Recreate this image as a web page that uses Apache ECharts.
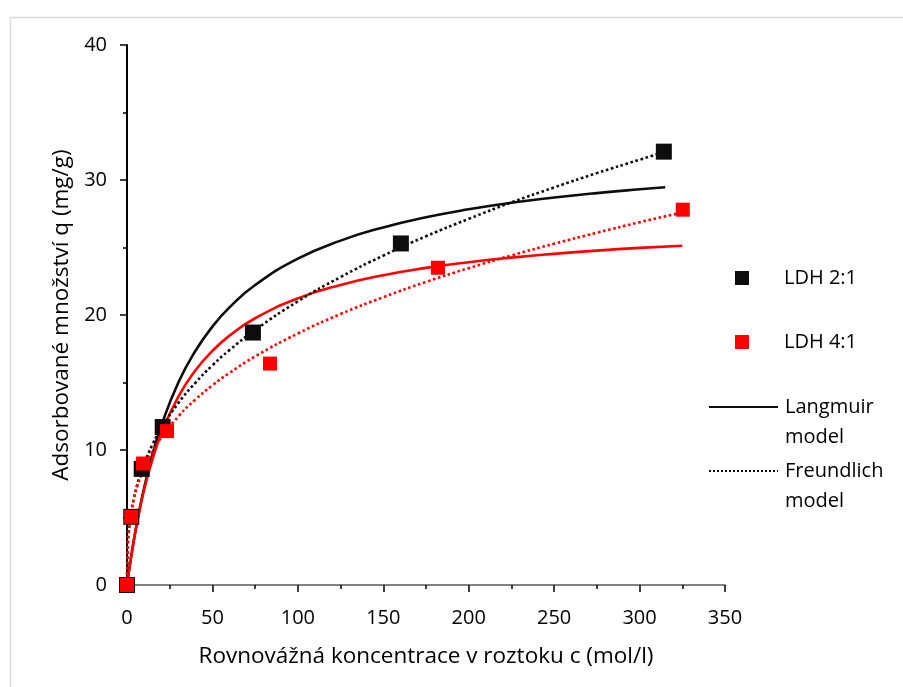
<!DOCTYPE html>
<html>
<head>
<meta charset="utf-8">
<script src="https://cdn.jsdelivr.net/npm/echarts@6/dist/echarts.min.js"></script>
<style>html,body{margin:0;padding:0;background:#fff}#chart{width:903px;height:687px}</style>
</head>
<body>
<div id="chart"></div>
<script>
// Measured points
const ldh21C = [0, 2.5, 8.6, 20.9, 73.7, 160.3, 314.2];
const ldh21Q = [0, 5.05, 8.6, 11.7, 18.7, 25.3, 32.1];
const ldh41C = [0, 2.5, 9.4, 23.4, 83.7, 182, 325.3];
const ldh41Q = [0, 5.05, 9.0, 11.4, 16.4, 23.5, 27.8];

// Model curves
const lang21C = [0, 1, 2, 4, 6, 8, 10, 15, 20, 30, 40, 50, 60, 75, 100, 125, 150, 175, 200, 225, 250, 275, 300, 315];
const lang21Q = [0, 0.89, 1.74, 3.30, 4.72, 6.00, 7.18, 9.70, 11.78, 14.98, 17.33, 19.14, 20.56, 22.22, 24.17, 25.51, 26.49, 27.24, 27.83, 28.31, 28.70, 29.03, 29.31, 29.46];
const freu21C = [0, 0.5, 1, 2, 4, 6, 8, 10, 15, 20, 30, 40, 50, 60, 75, 100, 125, 150, 175, 200, 225, 250, 275, 300, 315];
const freu21Q = [0, 2.97, 3.84, 4.96, 6.40, 7.44, 8.27, 8.98, 10.43, 11.60, 13.47, 14.98, 16.27, 17.40, 18.89, 21.01, 22.81, 24.40, 25.83, 27.12, 28.34, 29.45, 30.51, 31.50, 32.10];
const lang41C = [0, 1, 2, 4, 6, 8, 10, 15, 20, 30, 40, 50, 60, 75, 100, 125, 150, 175, 200, 225, 250, 275, 300, 325];
const lang41Q = [0, 0.92, 1.77, 3.33, 4.71, 5.93, 7.04, 9.35, 11.19, 13.94, 15.89, 17.34, 18.47, 19.76, 21.23, 22.23, 22.95, 23.49, 23.91, 24.25, 24.53, 24.77, 24.97, 25.13];
const freu41C = [0, 0.5, 1, 2, 4, 6, 8, 10, 15, 20, 30, 40, 50, 60, 75, 100, 125, 150, 175, 200, 225, 250, 275, 300, 325];
const freu41Q = [0, 3.19, 4.02, 5.06, 6.38, 7.30, 8.03, 8.66, 9.91, 10.91, 12.48, 13.73, 14.79, 15.71, 16.93, 18.63, 20.07, 21.32, 22.45, 23.47, 24.41, 25.28, 26.09, 26.87, 27.59];

const xTitle = 'Rovnovážná koncentrace v roztoku c (mol/l)';
const yTitle = 'Adsorbované množství q (mg/g)';
const seriesNames = ['LDH 2:1', 'LDH 4:1', 'Langmuir model', 'Freundlich model'];

const zip = (a, b) => a.map((v, i) => [v, b[i]]);
const FONT = 'Open Sans';
const BLACK = '#0d0d0d';
const RED = '#ff0000';

const chart = echarts.init(document.getElementById('chart'), null, {renderer: 'canvas'});

// line legend: blank first line so that the first word sits level with the icon
const lineLegend = (name, top) => ({
  data: [{name: name, itemStyle: {opacity: 0}}], left: 708, top: top, padding: 0,
  itemWidth: 69, itemHeight: 14, selectedMode: false,
  formatter: n => '\u00a0\n' + n.replace(' ', '\n'),
  textStyle: {fontFamily: FONT, fontSize: 20, color: '#000', lineHeight: 30, padding: [0, 0, 0, 2]}
});
const pointLegend = (name, top) => ({
  data: [{name: name, icon: 'rect'}], left: 735, top: top, padding: 0,
  itemWidth: 14, itemHeight: 14, selectedMode: false,
  textStyle: {fontFamily: FONT, fontSize: 20, color: '#000', lineHeight: 30, padding: [0, 0, 0, 30]}
});

chart.setOption({
  animation: false,
  backgroundColor: '#fff',
  graphic: [{
    type: 'rect', left: 8, top: 15, silent: true,
    shape: {width: 910, height: 700},
    style: {fill: 'none', stroke: '#d9d9d9', lineWidth: 1.5}
  }],
  grid: {left: 127, right: 178, top: 45, bottom: 102, containLabel: false},
  legend: [
    pointLegend(seriesNames[0], 263),
    pointLegend(seriesNames[1], 327),
    lineLegend(seriesNames[2], 362),
    lineLegend(seriesNames[3], 426)
  ],
  xAxis: {
    type: 'value', min: 0, max: 350, interval: 50,
    name: xTitle, nameLocation: 'middle', nameGap: 60,
    nameTextStyle: {fontFamily: FONT, fontSize: 22.5, color: '#000'},
    axisLine: {show: true, lineStyle: {color: '#595959', width: 1.5}},
    axisTick: {show: true, length: 7, lineStyle: {color: '#000', width: 1.5}},
    minorTick: {show: true, splitNumber: 2, length: 4, lineStyle: {color: '#000', width: 1.5}},
    splitLine: {show: false},
    axisLabel: {fontFamily: FONT, fontSize: 20, color: '#000', margin: 23}
  },
  yAxis: {
    type: 'value', min: 0, max: 40, interval: 10,
    name: yTitle, nameLocation: 'middle', nameGap: 53, nameRotate: 90,
    nameTextStyle: {fontFamily: FONT, fontSize: 22.5, color: '#000'},
    axisLine: {show: true, lineStyle: {color: '#000', width: 2}},
    axisTick: {show: true, length: 7, lineStyle: {color: '#000', width: 1.5}},
    minorTick: {show: true, splitNumber: 2, length: 4, lineStyle: {color: '#000', width: 1.5}},
    splitLine: {show: false},
    axisLabel: {fontFamily: FONT, fontSize: 20, color: '#000', margin: 20}
  },
  series: [
    {name: seriesNames[2], type: 'line', data: zip(lang21C, lang21Q), smooth: true, showSymbol: false, symbol: 'none', z: 2,
     color: BLACK, lineStyle: {color: BLACK, width: 2.6, type: 'solid'}},
    {name: seriesNames[2], type: 'line', data: zip(lang41C, lang41Q), smooth: true, showSymbol: false, symbol: 'none', z: 2,
     color: RED, lineStyle: {color: RED, width: 2.6, type: 'solid'}},
    {name: seriesNames[3], type: 'line', data: zip(freu21C, freu21Q), smooth: true, showSymbol: false, symbol: 'none', z: 2,
     color: BLACK, lineStyle: {color: BLACK, width: 2.6, type: 'dotted'}},
    {name: seriesNames[3], type: 'line', data: zip(freu41C, freu41Q), smooth: true, showSymbol: false, symbol: 'none', z: 2,
     color: RED, lineStyle: {color: RED, width: 2.6, type: 'dotted'}},
    {name: seriesNames[0], type: 'scatter', data: zip(ldh21C, ldh21Q), symbol: 'rect', symbolSize: 16, z: 3,
     itemStyle: {color: BLACK, opacity: 1}},
    {name: seriesNames[1], type: 'scatter', data: zip(ldh41C, ldh41Q), symbol: 'rect', symbolSize: 14, z: 4,
     itemStyle: {color: RED, opacity: 1}}
  ]
});
</script>
</body>
</html>
